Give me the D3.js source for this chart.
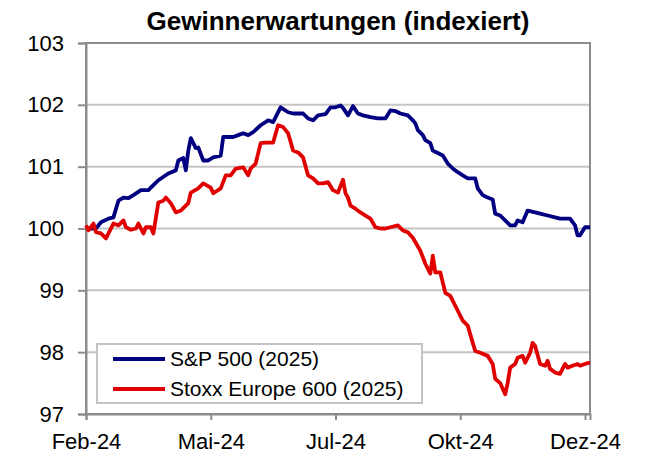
<!DOCTYPE html>
<html>
<head>
<meta charset="utf-8">
<script src="https://cdn.jsdelivr.net/npm/d3@7"></script>
<style>
  body { margin: 0; background: #fff; }
  text { font-family: "Liberation Sans", Arial, sans-serif; fill: #000; }
</style>
</head>
<body>
<div id="chart"></div>
<script>
// trading-day index on x, earnings-expectation index on y
var tickDays = [0, 50, 100, 150, 200];
var tickLabels = ["Feb-24", "Mai-24", "Jul-24", "Okt-24", "Dez-24"];
var yTicks = [97, 98, 99, 100, 101, 102, 103];
var seriesNames = ["S&P 500 (2025)", "Stoxx Europe 600 (2025)"];

var sp500 = [
  [0,100.0],[4,100.0],[6,100.10],[9,100.16],[11,100.18],[13,100.45],[15,100.50],[17,100.49],
  [19,100.54],[22,100.62],[25,100.62],[27,100.70],[29,100.78],[33,100.89],[36,100.94],[37,101.10],
  [39,101.14],[40,100.94],[41,101.26],[42,101.46],[43,101.38],[44,101.30],[45,101.31],[47,101.10],
  [49,101.10],[51,101.15],[54,101.18],[55,101.48],[59,101.48],[61,101.51],[63,101.54],[65,101.51],
  [67,101.56],[70,101.67],[73,101.75],[75,101.72],[76,101.80],[78,101.96],[81,101.88],[83,101.86],
  [87,101.86],[89,101.78],[91,101.75],[93,101.83],[96,101.85],[98,101.96],[100,101.96],[102,101.99],
  [103,101.95],[105,101.83],[107,101.98],[109,101.86],[111,101.83],[114,101.80],[117,101.78],[120,101.78],
  [122,101.91],[124,101.90],[126,101.86],[129,101.83],[131,101.75],[132,101.70],[133,101.59],[135,101.51],
  [136,101.43],[138,101.38],[139,101.26],[141,101.22],[143,101.18],[145,101.05],[147,100.97],[149,100.91],
  [151,100.86],[153,100.81],[156,100.81],[157,100.65],[159,100.54],[161,100.50],[163,100.47],[164,100.24],
  [166,100.21],[168,100.13],[170,100.05],[172,100.05],[173,100.13],[175,100.10],[177,100.29],[180,100.26],
  [182,100.24],[185,100.21],[188,100.18],[190,100.16],[194,100.16],[196,100.05],[197,99.89],[198,99.89],
  [200,100.02],[202,100.02]
];

var stoxx600 = [
  [0,100.05],[1,99.97],[3,100.08],[4,99.94],[6,99.92],[8,99.84],[9,99.92],[11,100.08],
  [13,100.05],[15,100.13],[16,100.02],[18,99.98],[20,100.00],[21,100.08],[23,99.92],[24,100.02],
  [26,100.02],[27,99.92],[29,100.42],[31,100.45],[32,100.50],[34,100.41],[36,100.26],[38,100.29],
  [41,100.41],[42,100.58],[45,100.65],[47,100.73],[50,100.66],[51,100.57],[54,100.65],[56,100.86],
  [58,100.86],[60,100.97],[63,100.99],[65,100.86],[66,100.97],[68,101.05],[70,101.38],[72,101.39],
  [75,101.39],[77,101.67],[79,101.64],[81,101.54],[83,101.26],[85,101.23],[87,101.15],[89,100.86],
  [91,100.81],[93,100.73],[95,100.73],[97,100.75],[99,100.62],[101,100.58],[103,100.79],[104,100.57],
  [105,100.50],[106,100.37],[108,100.32],[110,100.26],[112,100.21],[114,100.16],[116,100.02],[118,100.00],
  [120,100.00],[122,100.02],[125,100.05],[127,99.97],[129,99.94],[131,99.85],[134,99.64],[136,99.43],
  [138,99.27],[139,99.56],[140,99.29],[142,99.29],[144,98.96],[146,98.91],[149,98.67],[151,98.51],
  [153,98.43],[155,98.15],[156,98.02],[158,97.99],[161,97.94],[163,97.81],[164,97.57],[166,97.50],
  [168,97.32],[169,97.50],[170,97.75],[172,97.81],[173,97.91],[175,97.94],[176,97.83],[178,97.99],
  [179,98.15],[180,98.10],[182,97.81],[184,97.78],[185,97.86],[186,97.73],[188,97.67],[190,97.65],
  [192,97.81],[193,97.75],[195,97.78],[197,97.81],[198,97.78],[200,97.81],[202,97.83]
];

var colors = ["#000080", "#e00000"];

var W = 647, H = 455;
var margin = {top: 43, right: 57, bottom: 41, left: 86};
var width = W - margin.left - margin.right,
    height = H - margin.top - margin.bottom;

var svg = d3.select("#chart").append("svg")
    .attr("width", W)
    .attr("height", H);

svg.append("text")
    .attr("x", margin.left + width / 2)
    .attr("y", 30)
    .attr("text-anchor", "middle")
    .style("font-size", "26px")
    .style("font-weight", "bold")
    .text("Gewinnerwartungen (indexiert)");

var g = svg.append("g")
    .attr("transform", "translate(" + margin.left + "," + margin.top + ")");

var x = d3.scaleLinear().domain([0, 202]).range([0, width]);
var y = d3.scaleLinear().domain([97, 103]).range([height, 0]);

// gridlines
g.selectAll(".grid")
  .data(yTicks.slice(1, -1))
  .enter().append("line")
    .attr("x1", 0).attr("x2", width)
    .attr("y1", function(d) { return y(d); })
    .attr("y2", function(d) { return y(d); })
    .attr("stroke", "#c4c4c4")
    .attr("stroke-width", 2);

// plot frame
g.append("rect")
    .attr("width", width).attr("height", height)
    .attr("fill", "none")
    .attr("stroke", "#8c8c8c")
    .attr("stroke-width", 2);

var yAxis = g.append("g")
    .call(d3.axisLeft(y).tickValues(yTicks).tickSize(8).tickPadding(14).tickFormat(d3.format("d")));
var xAxis = g.append("g")
    .attr("transform", "translate(0," + height + ")")
    .call(d3.axisBottom(x).tickValues(tickDays).tickSize(6).tickPadding(13)
      .tickFormat(function(d, i) { return tickLabels[i]; }));

[yAxis, xAxis].forEach(function(a) {
  a.select(".domain").attr("stroke", "#8c8c8c").attr("stroke-width", 2);
  a.selectAll(".tick line").attr("stroke", "#8c8c8c").attr("stroke-width", 2);
  a.selectAll(".tick text").style("font-size", "22px").style("font-family", "Liberation Sans, Arial, sans-serif");
});

var line = d3.line()
    .x(function(d) { return x(d[0]); })
    .y(function(d) { return y(d[1]); });

[sp500, stoxx600].forEach(function(s, i) {
  g.append("path")
    .datum(s)
    .attr("d", line)
    .attr("fill", "none")
    .attr("stroke", colors[i])
    .attr("stroke-width", 3.8)
    .attr("stroke-linejoin", "round");
});

// legend
var lg = svg.append("g").attr("transform", "translate(97,344)");
lg.append("rect")
    .attr("width", 325).attr("height", 59)
    .attr("fill", "#fff")
    .attr("stroke", "#c4c4c4")
    .attr("stroke-width", 2);
seriesNames.forEach(function(n, i) {
  var yy = 15 + i * 30;
  lg.append("line")
    .attr("x1", 16).attr("x2", 68)
    .attr("y1", yy).attr("y2", yy)
    .attr("stroke", colors[i])
    .attr("stroke-width", 4);
  lg.append("text")
    .attr("x", 73).attr("y", yy)
    .attr("dy", "0.35em")
    .style("font-size", "21px")
    .text(n);
});
</script>
</body>
</html>
